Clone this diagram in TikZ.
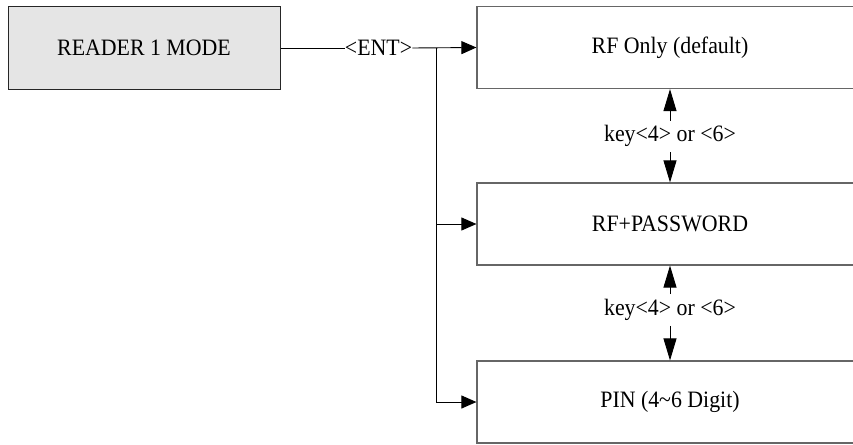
\documentclass[tikz,border=0pt]{standalone}
\usepackage{fontspec}
\setmainfont[FakeStretch=0.93]{Liberation Serif}
\usetikzlibrary{arrows.meta}
\begin{document}
\begin{tikzpicture}[x=1pt,y=-1pt,
  every node/.style={font=\fontsize{23.5}{27}\selectfont},
  modebox/.style={draw=black!60,line width=1.2pt,rectangle,minimum width=386pt,minimum height=82pt,inner sep=0pt},
  startbox/.style={draw=black!85,line width=1pt,fill=black!10,rectangle,minimum width=272pt,minimum height=82pt,inner sep=0pt},
  keylabel/.style={inner xsep=1pt,inner ysep=5pt,text height=16pt,text depth=5.5pt},
  conn/.style={draw=black,line width=0.9pt},
  harrow/.style={conn,-{Triangle[length=15pt,width=13pt]}},
  varrow/.style={conn,-{Triangle[length=22pt,width=13pt]}}]
\useasboundingbox (0,0) rectangle (853,444);
\clip (0,0) rectangle (853,444);
\node[startbox] (reader) at (144,48) {READER 1 MODE};
\node[modebox] (rf) at (670,47.5) {RF Only (default)};
\node[modebox] (rfp) at (670,224) {RF+PASSWORD};
\node[modebox] (pin) at (670,402) {PIN (4\textasciitilde 6 Digit)};
\node[inner sep=0pt] (ent) at (378.5,48) {<ENT>};
\coordinate (j) at (436,48);
\draw[conn] (reader.east) -- (ent.west);
\draw[harrow] (ent.east) -- (rf.west);
\draw[harrow] (j) |- (rfp.west);
\draw[harrow] (j) |- (pin.west);
\node[keylabel] (k1) at (670,136.5) {key<4> or <6>};
\node[keylabel] (k2) at (670,310) {key<4> or <6>};
\draw[varrow] (k1.north) -- (rf.south);
\draw[varrow] (k1.south) -- (rfp.north);
\draw[varrow] (k2.north) -- (rfp.south);
\draw[varrow] (k2.south) -- (pin.north);
\end{tikzpicture}
\end{document}
